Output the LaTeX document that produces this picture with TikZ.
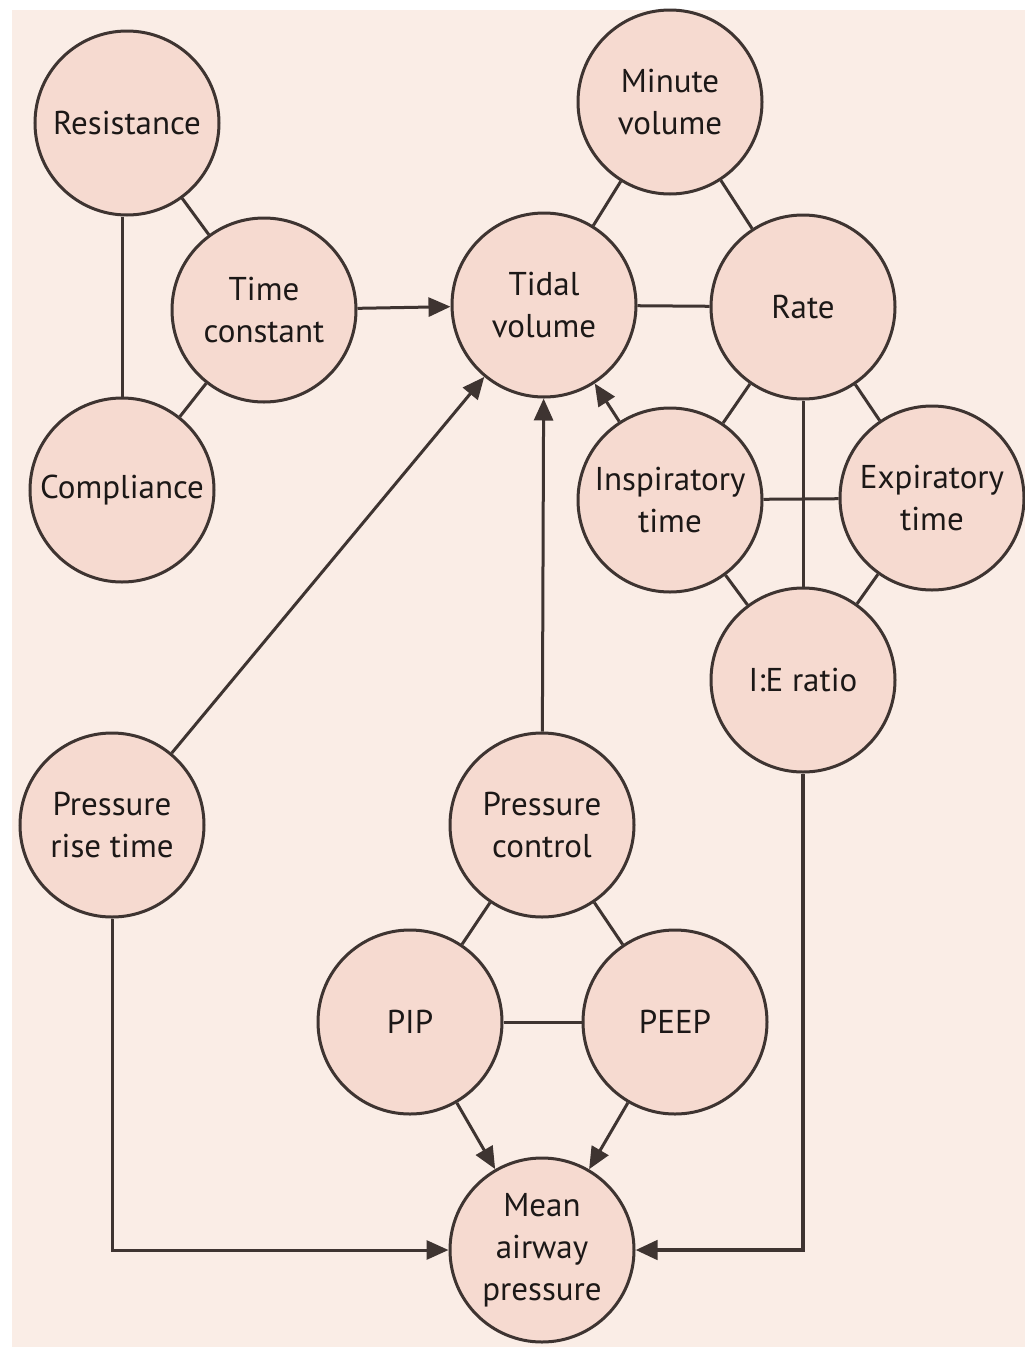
\documentclass[tikz,border=0pt]{standalone}
\usepackage{fontspec}
\setmainfont{PT Sans}
\usetikzlibrary{arrows.meta}
\definecolor{pagebg}{HTML}{FAEDE6}
\definecolor{bubble}{HTML}{F6DAD0}
\definecolor{rim}{HTML}{3E3431}
\definecolor{ink}{HTML}{1C1817}
\begin{document}
\begin{tikzpicture}[x=1pt,y=-1pt,
  var/.style={circle,draw=rim,line width=3pt,fill=bubble,minimum size=184pt,inner sep=0pt,
    align=center,text=ink,font=\fontsize{33}{42}\selectfont},
  link/.style={draw=rim,line width=3pt},
  drive/.style={link,-{Triangle[length=22pt,width=19pt]}}]
\useasboundingbox (0,0) rectangle (1025,1347);
\fill[white] (0,0) rectangle (1025,1347);
\fill[pagebg] (12,10) rectangle (1025,1347);

\node[var] (res) at (127,123) {Resistance};
\node[var] (tc)  at (264,310) {Time\\constant};
\node[var] (comp) at (122,490) {Compliance};
\node[var] (mv) at (670,102) {Minute\\volume};
\node[var] (tv) at (544,305) {Tidal\\volume};
\node[var] (rate) at (803,307) {Rate};
\node[var] (ti) at (670,500) {Inspiratory\\time};
\node[var] (te) at (932,498) {Expiratory\\time};
\node[var] (ie) at (803,680) {I:E ratio};
\node[var] (prt) at (112,825) {Pressure\\rise time};
\node[var] (pc) at (542,825) {Pressure\\control};
\node[var] (pip) at (410,1022) {PIP};
\node[var] (peep) at (675,1022) {PEEP};
\node[var] (map) at (542,1250) {Mean\\airway\\pressure};

% plain relations
\draw[link] (res.south -| comp) -- (comp.north);
\draw[link] (res) -- (tc);
\draw[link] (comp) -- (tc);
\draw[link] (mv) -- (tv);
\draw[link] (mv) -- (rate);
\draw[link] (tv) -- (rate);
\draw[link] (rate) -- (ti);
\draw[link] (rate) -- (te);
\draw[link] (rate) -- (ie);
\draw[link] (ti) -- (te);
\draw[link] (ti) -- (ie);
\draw[link] (te) -- (ie);
\draw[link] (pc) -- (pip);
\draw[link] (pc) -- (peep);
\draw[link] (pip) -- (peep);

% influences
\draw[drive] (tc) -- (tv);
\draw[drive] (ti) -- (tv);
\draw[drive] (prt) -- (tv);
\draw[drive] (pc) -- (tv);
\draw[drive] (pip) -- (map);
\draw[drive] (peep) -- (map);
\draw[drive] (prt.south) |- (map.west);
\draw[drive,line width=4.5pt] (ie.south) |- (map.east);
\end{tikzpicture}
\end{document}
